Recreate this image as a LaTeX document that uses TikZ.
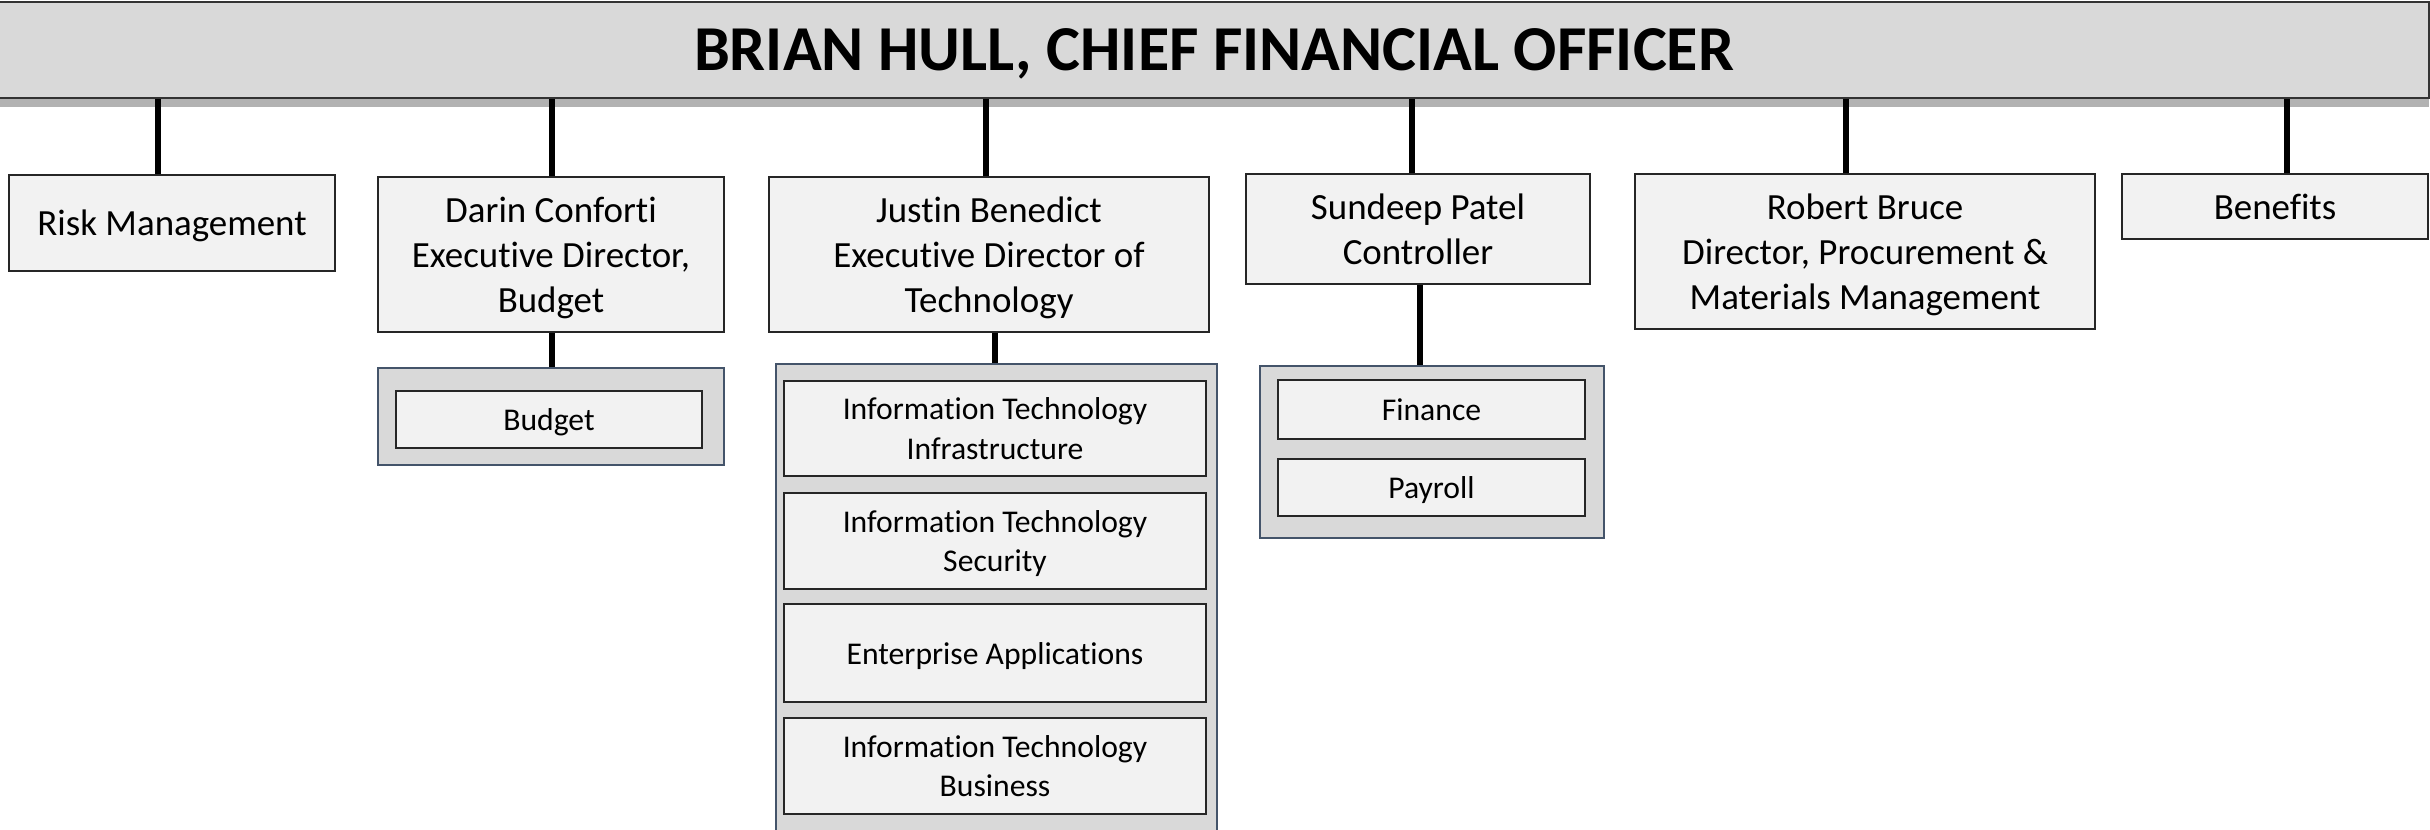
\documentclass[tikz,border=0pt]{standalone}
\usepackage{fontspec}
\setmainfont{Carlito}[Ligatures={NoCommon,NoContextual}]
\usetikzlibrary{shadows}
\definecolor{barfill}{HTML}{D9D9D9}
\definecolor{boxfill}{HTML}{F2F2F2}
\definecolor{grpline}{HTML}{44546A}
\tikzset{
	% boxes of the chart, sizes in cm (1 px = 0.01 cm)
	box/.style={draw=black!85, line width=0.5pt, fill=boxfill, align=center, inner sep=0pt,
		text depth=0pt, font=\fontsize{10.5}{12.8}\selectfont},
	unitbox/.style={box, font=\fontsize{9}{11.1}\selectfont},
	groupbox/.style={draw=grpline, line width=0.6pt, fill=barfill, inner sep=0pt},
	headbar/.style={draw=black!80, line width=0.6pt, fill=barfill, inner sep=0pt,
		font=\fontsize{18.2}{22}\selectfont\bfseries, text height=11.6pt, text depth=0pt,
		drop shadow={shadow xshift=0pt, shadow yshift=-2.5pt, opacity=0.3, fill=black}},
	stem/.style={line width=1.6pt}
}
\begin{document}
\begin{tikzpicture}[x=0.01cm, y=-0.01cm]
	% 2430 x 829 px
	\useasboundingbox (0,0) rectangle (2430,829);
	\clip (0,0) rectangle (2430,829);
	\node[headbar, minimum width=24.28cm, minimum height=0.96cm] (cfo) at (1214,50) {BRIAN HULL, CHIEF FINANCIAL OFFICER};

	% first row
	\node[box, minimum width=3.26cm, minimum height=0.96cm] (risk) at (172,223) {Risk Management};
	\node[box, minimum width=3.46cm, minimum height=1.55cm] (darin) at (551,254.5) {Darin Conforti\\Executive Director,\\Budget};
	\node[box, minimum width=4.40cm, minimum height=1.55cm] (justin) at (989,254.5) {Justin Benedict\\Executive Director of\\Technology};
	\node[box, minimum width=3.44cm, minimum height=1.10cm] (sundeep) at (1418,229) {Sundeep Patel\\Controller};
	\node[box, minimum width=4.60cm, minimum height=1.55cm] (robert) at (1865,251.5) {Robert Bruce\\Director, Procurement \&\\Materials Management};
	\node[box, minimum width=3.06cm, minimum height=0.65cm] (benefits) at (2275,206.5) {Benefits};

	% groups
	\node[groupbox, minimum width=3.46cm, minimum height=0.97cm] (budgetgrp) at (551,416.5) {};
	\node[unitbox, minimum width=3.06cm, minimum height=0.57cm] (budget) at (549,419.5) {Budget};

	\node[groupbox, minimum width=4.41cm, minimum height=5.36cm] (itgrp) at (996.5,632) {};
	\node[unitbox, minimum width=4.22cm, minimum height=0.95cm] (itinfra) at (995,428.5) {Information Technology\\Infrastructure};
	\node[unitbox, minimum width=4.22cm, minimum height=0.96cm] (itsec) at (995,541) {Information Technology\\Security};
	\node[unitbox, minimum width=4.22cm, minimum height=0.98cm] (entapp) at (995,653) {Enterprise Applications};
	\node[unitbox, minimum width=4.22cm, minimum height=0.96cm] (itbus) at (995,766) {Information Technology\\Business};

	\node[groupbox, minimum width=3.44cm, minimum height=1.72cm] (fingrp) at (1432,452) {};
	\node[unitbox, minimum width=3.07cm, minimum height=0.59cm] (finance) at (1431.5,409.5) {Finance};
	\node[unitbox, minimum width=3.07cm, minimum height=0.57cm] (payroll) at (1431.5,487.5) {Payroll};

	% connectors
	\draw[stem] ([xshift=-0.14cm]risk.north) -- ([xshift=-0.14cm]risk.north |- cfo.south);
	\draw[stem] ([xshift=0.01cm]darin.north) -- ([xshift=0.01cm]darin.north |- cfo.south);
	\draw[stem] ([xshift=-0.03cm]justin.north) -- ([xshift=-0.03cm]justin.north |- cfo.south);
	\draw[stem] ([xshift=-0.06cm]sundeep.north) -- ([xshift=-0.06cm]sundeep.north |- cfo.south);
	\draw[stem] ([xshift=-0.19cm]robert.north) -- ([xshift=-0.19cm]robert.north |- cfo.south);
	\draw[stem] ([xshift=0.12cm]benefits.north) -- ([xshift=0.12cm]benefits.north |- cfo.south);

	\draw[stem] ([xshift=0.01cm]darin.south) -- ([xshift=0.01cm]darin.south |- budgetgrp.north);
	\draw[stem] ([xshift=0.06cm]justin.south) -- ([xshift=0.06cm]justin.south |- itgrp.north);
	\draw[stem] ([xshift=0.02cm]sundeep.south) -- ([xshift=0.02cm]sundeep.south |- fingrp.north);
\end{tikzpicture}
\end{document}
